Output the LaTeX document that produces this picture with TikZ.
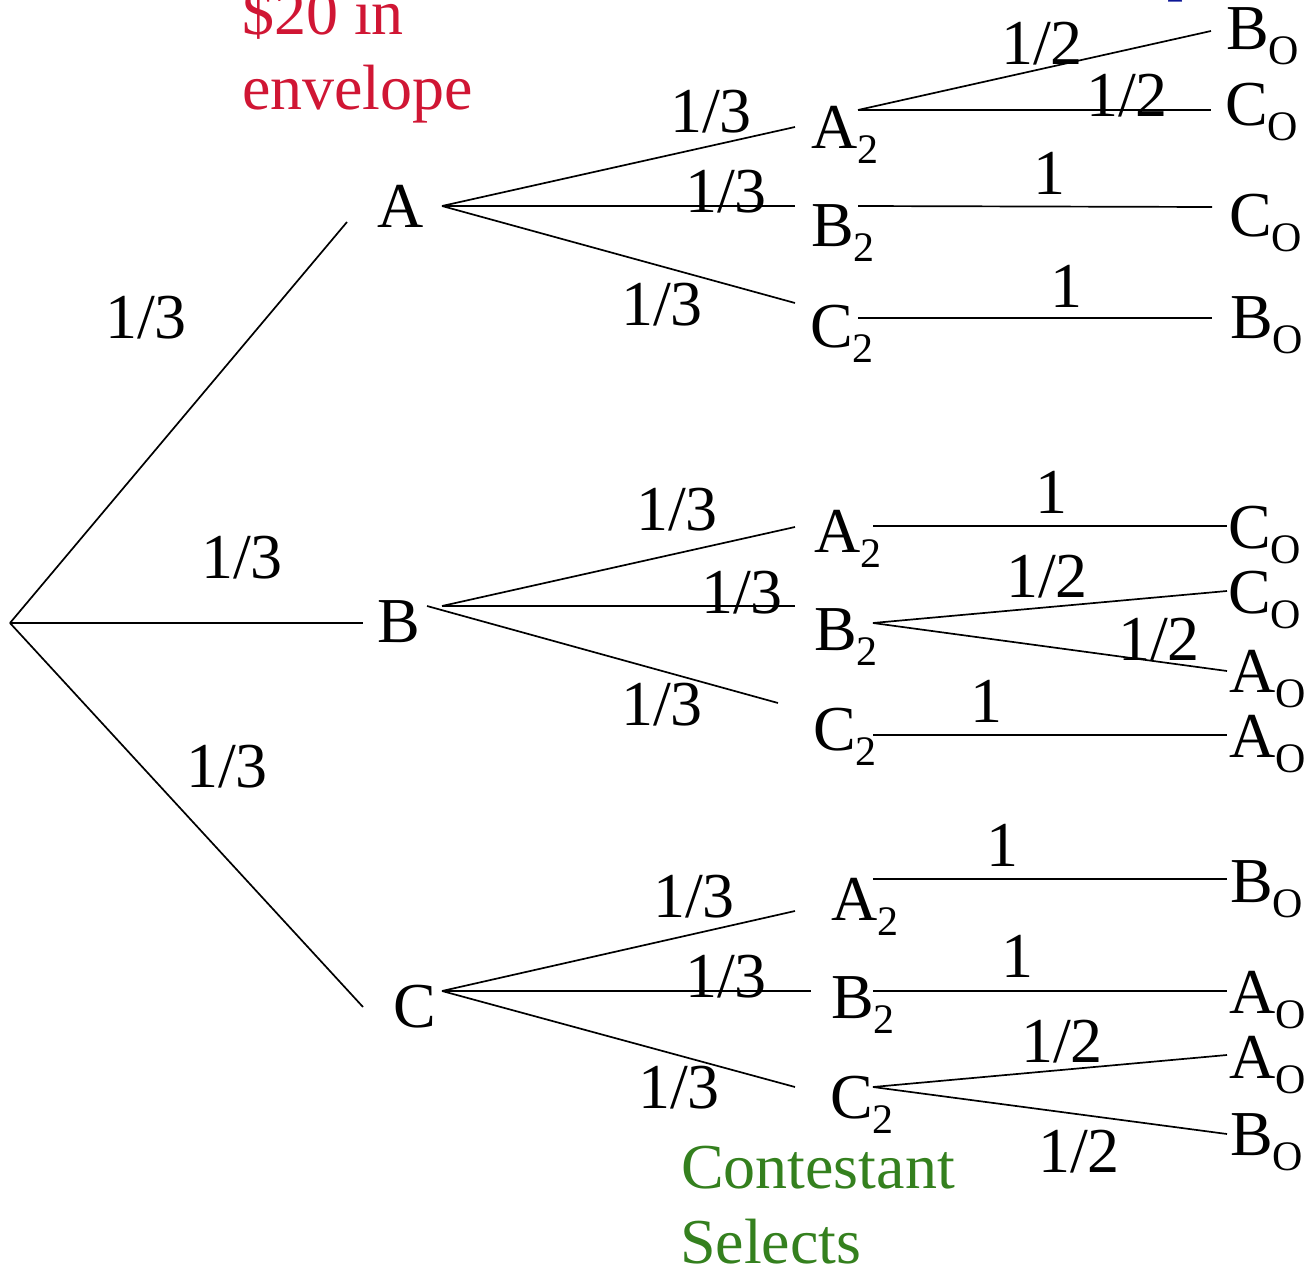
\documentclass[tikz,border=0pt]{standalone}
\usepackage{fontspec}
\setmainfont{Liberation Serif}
\definecolor{envred}{RGB}{208,22,52}
\definecolor{selgreen}{RGB}{52,128,30}
\definecolor{hostblue}{RGB}{12,22,150}
\newcommand\subx[1]{\raisebox{-15pt}{\fontsize{42}{42}\selectfont #1}}
\tikzset{
  txt/.style={inner sep=0pt, outer sep=0pt, anchor=base west, font=\fontsize{64}{75}\selectfont},
  prob/.style={txt},
  edge/.style={line width=1.7pt, line cap=butt},
}
\begin{document}
\begin{tikzpicture}[x=1pt,y=-1pt]
\useasboundingbox (0,0) rectangle (1307,1268);
\clip (0,0) rectangle (1307,1268);

% captions
\node[txt, text=envred] (red1) at (242,35) {\$20 in};
\node[txt, text=envred] (red2) at (242,110) {envelope};
\node[txt, text=selgreen] (grn1) at (681,1188) {Contestant};
\node[txt, text=selgreen] (grn2) at (680,1263) {Selects};
\node[txt, text=hostblue] (blu) at (1135,-11) {opens};

% level 1
\coordinate (root) at (10,623);
\node[txt] (A) at (377,228) {A};
\node[txt] (B) at (377,642) {B};
\node[txt] (C) at (393,1027) {C};
\coordinate (Ain) at (347,222);
\coordinate (Bin) at (363,623);
\coordinate (Cin) at (363,1007);
\draw[edge] (root) -- (Ain);
\draw[edge] (root) -- (Bin);
\draw[edge] (root) -- (Cin);
\node[prob] (p0a) at (105,338) {1/3};
\node[prob] (p0b) at (201,578) {1/3};
\node[prob] (p0c) at (186,787) {1/3};

% ---------- group A ----------
\coordinate (Aout) at (442,206);
\node[txt] (AA) at (811,149) {A\subx{2}};
\node[txt] (AB) at (811,247) {B\subx{2}};
\node[txt] (AC) at (810,347) {C\subx{2}};
\coordinate (AAin) at (795,127);
\coordinate (ABin) at (795,206);
\coordinate (ACin) at (795,303);
\draw[edge] (Aout) -- (AAin);
\draw[edge] (Aout) -- (ABin);
\draw[edge] (Aout) -- (ACin);
\node[prob] (pAA) at (670,133) {1/3};
\node[prob] (pAB) at (685,213) {1/3};
\node[prob] (pAC) at (621,325) {1/3};
\coordinate (AAout) at (858,110);
\coordinate (ABout) at (858,206);
\coordinate (ACout) at (858,318);
\node[txt] (AAl1) at (1226,50) {B\subx{O}};
\node[txt] (AAl2) at (1225,126) {C\subx{O}};
\node[txt] (ABl) at (1229,237) {C\subx{O}};
\node[txt] (ACl) at (1230,338) {B\subx{O}};
\coordinate (AAe1) at (1211,31);
\coordinate (AAe2) at (1211,110);
\coordinate (ABe) at (1212,207);
\coordinate (ACe) at (1212,318);
\draw[edge] (AAout) -- (AAe1);
\draw[edge] (AAout) -- (AAe2);
\draw[edge] (ABout) -- (ABe);
\draw[edge] (ACout) -- (ACe);
\node[prob] (qAA1) at (1001,65) {1/2};
\node[prob] (qAA2) at (1086,117) {1/2};
\node[prob] (qAB) at (1033,195) {1};
\node[prob] (qAC) at (1050,307) {1};

% ---------- group B ----------
\coordinate (Bout) at (442,606);
\coordinate (Bout2) at (427,606);
\node[txt] (BA) at (814,552) {A\subx{2}};
\node[txt] (BB) at (814,650) {B\subx{2}};
\node[txt] (BC) at (813,750) {C\subx{2}};
\coordinate (BAin) at (795,527);
\coordinate (BBin) at (795,606);
\coordinate (BCin) at (778,703);
\draw[edge] (Bout) -- (BAin);
\draw[edge] (Bout) -- (BBin);
\draw[edge] (Bout2) -- (BCin);
\node[prob] (pBA) at (636,530) {1/3};
\node[prob] (pBB) at (701,613) {1/3};
\node[prob] (pBC) at (621,725) {1/3};
\coordinate (BAout) at (873,526);
\coordinate (BBout) at (873,623);
\coordinate (BCout) at (873,735);
\node[txt] (BAl) at (1228,548) {C\subx{O}};
\node[txt] (BBl1) at (1228,613) {C\subx{O}};
\node[txt] (BBl2) at (1229,692) {A\subx{O}};
\node[txt] (BCl) at (1229,757) {A\subx{O}};
\coordinate (BAe) at (1227,526);
\coordinate (BBe1) at (1227,591);
\coordinate (BBe2) at (1227,671);
\coordinate (BCe) at (1227,735);
\draw[edge] (BAout) -- (BAe);
\draw[edge] (BBout) -- (BBe1);
\draw[edge] (BBout) -- (BBe2);
\draw[edge] (BCout) -- (BCe);
\node[prob] (qBA) at (1035,513) {1};
\node[prob] (qBB1) at (1006,597) {1/2};
\node[prob] (qBB2) at (1118,660) {1/2};
\node[prob] (qBC) at (970,722) {1};

% ---------- group C ----------
\coordinate (Cout) at (442,991);
\node[txt] (CA) at (831,920) {A\subx{2}};
\node[txt] (CB) at (831,1018) {B\subx{2}};
\node[txt] (CC) at (830,1118) {C\subx{2}};
\coordinate (CAin) at (795,911);
\coordinate (CBin) at (811,991);
\coordinate (CCin) at (795,1087);
\draw[edge] (Cout) -- (CAin);
\draw[edge] (Cout) -- (CBin);
\draw[edge] (Cout) -- (CCin);
\node[prob] (pCA) at (653,917) {1/3};
\node[prob] (pCB) at (685,997) {1/3};
\node[prob] (pCC) at (638,1108) {1/3};
\coordinate (CAout) at (873,879);
\coordinate (CBout) at (873,991);
\coordinate (CCout) at (873,1087);
\node[txt] (CAl) at (1230,902) {B\subx{O}};
\node[txt] (CBl) at (1229,1013) {A\subx{O}};
\node[txt] (CCl1) at (1229,1078) {A\subx{O}};
\node[txt] (CCl2) at (1230,1155) {B\subx{O}};
\coordinate (CAe) at (1227,879);
\coordinate (CBe) at (1227,991);
\coordinate (CCe1) at (1227,1055);
\coordinate (CCe2) at (1227,1134);
\draw[edge] (CAout) -- (CAe);
\draw[edge] (CBout) -- (CBe);
\draw[edge] (CCout) -- (CCe1);
\draw[edge] (CCout) -- (CCe2);
\node[prob] (qCA) at (986,866) {1};
\node[prob] (qCB) at (1001,977) {1};
\node[prob] (qCC1) at (1021,1062) {1/2};
\node[prob] (qCC2) at (1038,1172) {1/2};
\end{tikzpicture}
\end{document}
